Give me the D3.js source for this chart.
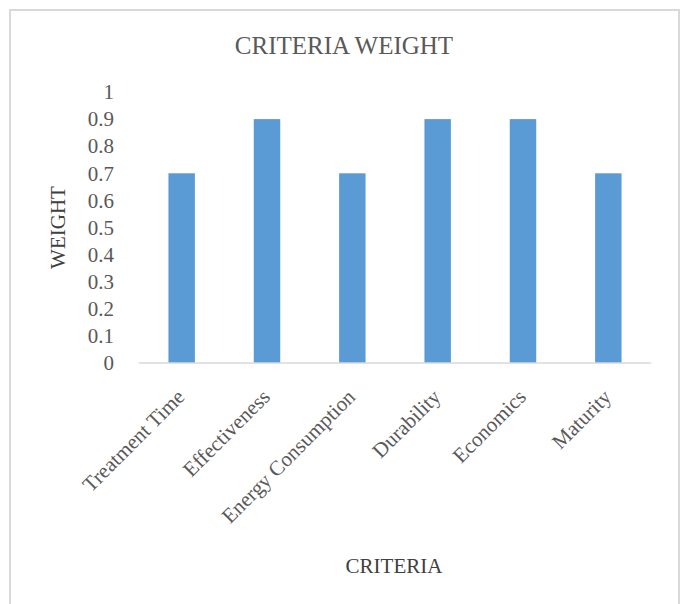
<!DOCTYPE html>
<html>
<head>
<meta charset="utf-8">
<script src="https://cdn.jsdelivr.net/npm/d3@7"></script>
<style>
  body { margin: 0; background: #fff; }
  svg text { font-family: "Liberation Serif", "Times New Roman", serif; }
</style>
</head>
<body>
<div id="chart"></div>
<script>
var categories = ["Treatment Time", "Effectiveness", "Energy Consumption", "Durability", "Economics", "Maturity"];
var weights = [0.7, 0.9, 0.7, 0.9, 0.9, 0.7];
var yTicks = [0, 0.1, 0.2, 0.3, 0.4, 0.5, 0.6, 0.7, 0.8, 0.9, 1];
var chartTitle = "CRITERIA WEIGHT";
var xTitle = "CRITERIA";
var yTitle = "WEIGHT";

var width = 681, height = 604;
var plot = {left: 139, right: 651, top: 92, bottom: 363};

var svg = d3.select("#chart").append("svg")
    .attr("width", width)
    .attr("height", height);

// chart frame (bottom edge runs off the page)
svg.append("rect")
    .attr("x", 10).attr("y", 10)
    .attr("width", 669).attr("height", 620)
    .attr("fill", "#fff")
    .attr("stroke", "#d9d9d9")
    .attr("stroke-width", 2);

var x = d3.scaleBand()
    .domain(categories)
    .range([plot.left, plot.right])
    .paddingInner(0.69)
    .paddingOuter(0.345);

var y = d3.scaleLinear()
    .domain([0, 1])
    .range([plot.bottom, plot.top]);

// title
svg.append("text")
    .attr("x", 344).attr("y", 54)
    .attr("text-anchor", "middle")
    .attr("font-size", 25)
    .attr("fill", "#595959")
    .text(chartTitle);

// y axis labels
var yAxis = d3.axisLeft(y).tickValues(yTicks).tickSize(0).tickPadding(0)
    .tickFormat(function(d){ return d3.format("")(d); });
var yg = svg.append("g")
    .attr("transform", "translate(114,0)")
    .call(yAxis);
yg.select(".domain").remove();
yg.selectAll("text")
    .attr("font-size", 21)
    .attr("fill", "#595959")
    .attr("font-family", "Liberation Serif");

// bars
svg.append("g").selectAll("rect")
    .data(weights)
    .join("rect")
    .attr("x", function(d, i){ return x(categories[i]); })
    .attr("y", function(d){ return y(d); })
    .attr("width", x.bandwidth())
    .attr("height", function(d){ return y(0) - y(d); })
    .attr("fill", "#5b9bd5");

// baseline
svg.append("line")
    .attr("x1", plot.left).attr("x2", plot.right)
    .attr("y1", y(0)).attr("y2", y(0))
    .attr("stroke", "#d9d9d9")
    .attr("stroke-width", 1.5);

// x labels
svg.append("g").selectAll("text")
    .data(categories)
    .join("text")
    .attr("transform", function(d){
        return "translate(" + (x(d) + x.bandwidth() / 2 - 1) + "," + (y(0) + 30) + ") rotate(-45)";
    })
    .attr("text-anchor", "end")
    .attr("dy", "0.35em")
    .attr("font-size", 21)
    .attr("fill", "#595959")
    .text(function(d){ return d; });

// axis titles
svg.append("text")
    .attr("x", 394).attr("y", 573)
    .attr("text-anchor", "middle")
    .attr("font-size", 21)
    .attr("fill", "#404040")
    .text(xTitle);

svg.append("text")
    .attr("transform", "translate(65," + ((plot.top + plot.bottom) / 2) + ") rotate(-90)")
    .attr("text-anchor", "middle")
    .attr("font-size", 21)
    .attr("fill", "#404040")
    .text(yTitle);
</script>
</body>
</html>
